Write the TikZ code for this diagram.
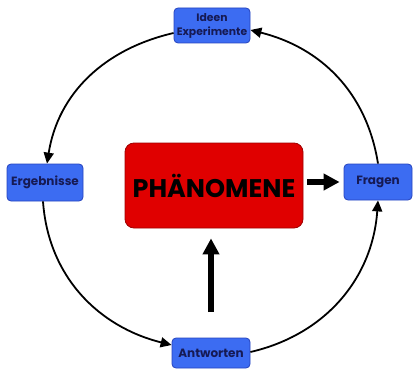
\documentclass[tikz,border=0pt]{standalone}
\usepackage{fontspec}
\setmainfont{Poppins}
\usetikzlibrary{arrows.meta}
\definecolor{boxblue}{RGB}{60,108,242}
\definecolor{boxedge}{RGB}{38,68,190}
\definecolor{labelnavy}{RGB}{22,26,84}
\definecolor{boxred}{RGB}{224,0,0}
\definecolor{rededge}{RGB}{160,0,0}
\begin{document}
\begin{tikzpicture}[x=1pt,y=1pt,
  stage/.style={draw=boxedge, fill=boxblue, rounded corners=4pt, line width=0.8pt,
    inner sep=0pt, align=center, text=labelnavy,
    font=\bfseries\fontsize{12}{14}\selectfont},
  cycle/.style={-{Triangle[length=11pt,width=10pt]}, line width=1.8pt},
  bold arrow/.style={-{Triangle[length=16pt,width=16pt]}, line width=5.5pt}]
\useasboundingbox (0,0) rectangle (415,-369);

% central phenomenon
\node[draw=rededge, fill=boxred, rounded corners=9pt, line width=0.8pt,
      minimum width=178pt, minimum height=85pt, inner sep=0pt,
      font=\bfseries\fontsize{25.5}{28}\selectfont] (phaen) at (214,-185.5) {PHÄNOMENE};

% stages of the cycle
\node[stage, minimum width=76pt, minimum height=35pt,
      font=\bfseries\fontsize{10.8}{14}\selectfont] (ideen) at (212,-25.5) {Ideen\\Experimente};
\node[stage, minimum width=68pt, minimum height=36pt] (fragen) at (378,-182) {Fragen};
\node[stage, minimum width=76pt, minimum height=37pt] (ergeb) at (45,-182.5) {Ergebnisse};
\node[stage, minimum width=78pt, minimum height=30pt] (antw) at (211,-353) {Antworten};

% cycle around the phenomenon
\draw[cycle] ([yshift=-7.5pt]ideen.west) to[out=193,in=81] ([xshift=2pt]ergeb.north);
\draw[cycle] ([xshift=-2pt]ergeb.south) to[out=274,in=166] ([yshift=8pt]antw.west);
\draw[cycle] ([yshift=1pt]antw.east) to[out=13,in=266] (fragen.south);
\draw[cycle] (fragen.north) to[out=99,in=346] ([yshift=-4.5pt]ideen.east);

% thick arrows
\draw[bold arrow] ([xshift=4pt]phaen.east |- fragen.west) -- ([xshift=-4pt]fragen.west);
\coordinate (base) at (211,-312);
\draw[bold arrow] (base) -- ([yshift=-10pt]phaen.south -| base);
\end{tikzpicture}
\end{document}
